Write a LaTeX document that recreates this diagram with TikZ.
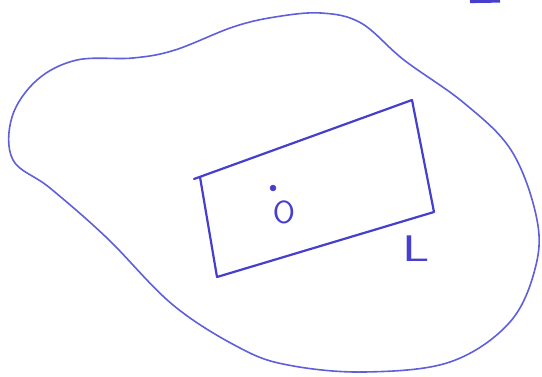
\documentclass[tikz,border=0pt]{standalone}
\usepackage{fontspec}
\usepackage{graphicx}
\definecolor{pen}{RGB}{95,95,220}
\definecolor{pendark}{RGB}{70,62,205}
\begin{document}
\begin{tikzpicture}[x=1pt,y=-1pt,
  blob/.style={draw=pen,line width=1.6pt,line join=round},
  rectline/.style={draw=pendark,line width=2.2pt,line join=round,line cap=round},
  lbl/.style={text=pendark,inner sep=0pt,font=\sffamily\fontsize{32}{32}\selectfont}]
\useasboundingbox (0,0) rectangle (542,376);
% outer region
\draw[blob] plot[smooth cycle,tension=0.6] coordinates {
 (321,13) (361,23) (404,60) (464,103) (511,150) (536,215) (536,265)
 (510,322) (450,362) (364,372) (288,365) (240,348) (173,305) (107,238)
 (50,188) (13,160) (12,117) (37,80) (77,60) (133,58) (175,50) (233,27) (275,17)};
% rectangle corners
\coordinate (tick) at (194,179);
\coordinate (tl) at (200,177);
\coordinate (tr) at (412,100);
\coordinate (br) at (434,212);
\coordinate (bl) at (217,277);
\draw[rectline] (tick) -- (tr) -- (br) -- (bl) -- (tl);
% dot and label O
\node[circle,fill=pendark,draw=pendark,inner sep=0pt,minimum size=6pt] (dot) at (273,188) {};
\node[lbl] (O) at (284,212) {O};
% label L
\node[lbl,font=\sffamily\fontsize{37}{37}\selectfont] (L) at (416,249) {\scalebox{1.45}[1]{L}};
% mark at top edge
\coordinate (m1) at (470,1.5);
\coordinate (m2) at (500,1);
\draw[draw=pendark,line width=3.2pt] (m1) -- (m2);
\end{tikzpicture}
\end{document}
